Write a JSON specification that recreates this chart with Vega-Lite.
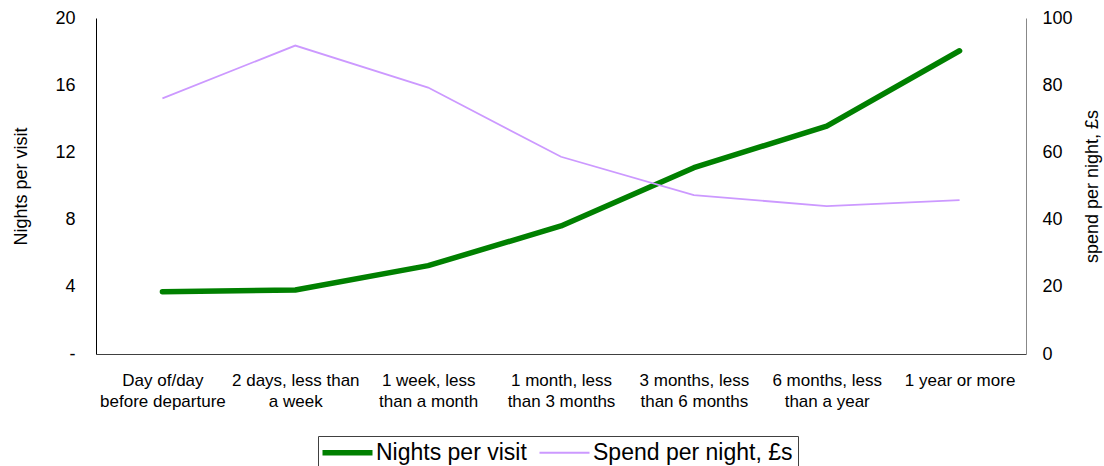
{
  "$schema": "https://vega.github.io/schema/vega-lite/v6.json",
  "width": 930,
  "height": 336,
  "autosize": {"type": "none"},
  "padding": {"left": 96, "top": 18, "right": 78, "bottom": 112},
  "background": "white",
  "config": {
    "font": "Liberation Sans",
    "view": {"stroke": null},
    "axis": {
      "grid": false,
      "ticks": false,
      "domainColor": "#404040",
      "labelColor": "#000",
      "titleColor": "#000",
      "titleFontWeight": "normal",
      "labelFontSize": 18,
      "titleFontSize": 18
    }
  },
  "data": {
    "values": [
      {"period": "Day of/day before departure", "series": "Nights per visit", "value": 3.71},
      {"period": "2 days, less than a week", "series": "Nights per visit", "value": 3.81},
      {"period": "1 week, less than a month", "series": "Nights per visit", "value": 5.26},
      {"period": "1 month, less than 3 months", "series": "Nights per visit", "value": 7.62},
      {"period": "3 months, less than 6 months", "series": "Nights per visit", "value": 11.09},
      {"period": "6 months, less than a year", "series": "Nights per visit", "value": 13.57},
      {"period": "1 year or more", "series": "Nights per visit", "value": 18.05},
      {"period": "Day of/day before departure", "series": "Spend per night, £s", "value": 76.1},
      {"period": "2 days, less than a week", "series": "Spend per night, £s", "value": 91.8},
      {"period": "1 week, less than a month", "series": "Spend per night, £s", "value": 79.3},
      {"period": "1 month, less than 3 months", "series": "Spend per night, £s", "value": 58.7},
      {"period": "3 months, less than 6 months", "series": "Spend per night, £s", "value": 47.3},
      {"period": "6 months, less than a year", "series": "Spend per night, £s", "value": 44.0},
      {"period": "1 year or more", "series": "Spend per night, £s", "value": 45.8}
    ]
  },
  "encoding": {
    "x": {
      "field": "period",
      "type": "nominal",
      "sort": null,
      "scale": {"type": "point", "padding": 0.5},
      "axis": {
        "title": null,
        "labelAngle": 0,
        "labelPadding": 18,
        "labelFontSize": 17,
        "labelLineHeight": 21,
        "labelLimit": 0,
        "domainColor": "#404040",
        "labelExpr": "{'Day of/day before departure': ['Day of/day', 'before departure'], '2 days, less than a week': ['2 days, less than', 'a week'], '1 week, less than a month': ['1 week, less', 'than a month'], '1 month, less than 3 months': ['1 month, less', 'than 3 months'], '3 months, less than 6 months': ['3 months, less', 'than 6 months'], '6 months, less than a year': ['6 months, less', 'than a year']}[datum.value] || datum.value"
      }
    },
    "color": {
      "field": "series",
      "type": "nominal",
      "scale": {
        "domain": ["Nights per visit", "Spend per night, £s"],
        "range": ["#008000", "#cc99ff"]
      },
      "legend": {
        "orient": "none",
        "legendX": 222,
        "legendY": 418,
        "direction": "horizontal",
        "title": null,
        "symbolType": "M-5,0H5",
        "symbolSize": 100,
        "symbolOffset": 13,
        "labelFontSize": 23,
        "labelColor": "#000",
        "labelOffset": 17,
        "labelLimit": 0,
        "columnPadding": 8,
        "padding": 5,
        "strokeColor": "#404040",
        "fillColor": "white"
      }
    },
    "strokeWidth": {
      "field": "series",
      "type": "nominal",
      "scale": {
        "domain": ["Nights per visit", "Spend per night, £s"],
        "range": [5.5, 1.8]
      }
    }
  },
  "layer": [
    {
      "transform": [{"filter": "datum.series === 'Nights per visit'"}],
      "mark": {"type": "line", "strokeCap": "round", "strokeJoin": "round"},
      "encoding": {
        "y": {
          "field": "value",
          "type": "quantitative",
          "scale": {"domain": [0, 20], "nice": false},
          "axis": {
            "orient": "left",
            "values": [0, 4, 8, 12, 16, 20],
            "labelExpr": "datum.value === 0 ? '-' : datum.label",
            "title": "Nights per visit",
            "labelPadding": 21,
            "titlePadding": 24,
            "domainColor": "#000"
          }
        }
      }
    },
    {
      "transform": [{"filter": "datum.series === 'Spend per night, £s'"}],
      "mark": {"type": "line"},
      "encoding": {
        "y": {
          "field": "value",
          "type": "quantitative",
          "scale": {"domain": [0, 100], "nice": false},
          "axis": {
            "orient": "right",
            "values": [0, 20, 40, 60, 80, 100],
            "title": "spend per night, £s",
            "titleAngle": 270,
            "labelPadding": 16,
            "titlePadding": 29,
            "domainColor": "#888"
          }
        }
      }
    }
  ],
  "resolve": {"scale": {"y": "independent"}}
}
